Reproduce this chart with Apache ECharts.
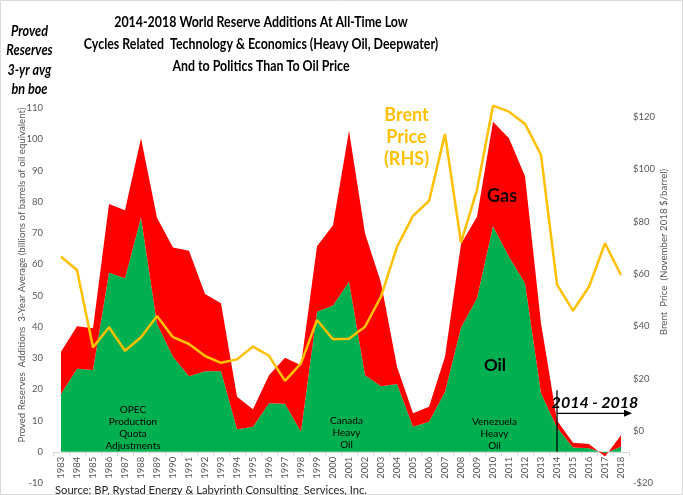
<!DOCTYPE html>
<html><head><meta charset="utf-8">
<script src="https://cdn.jsdelivr.net/npm/echarts@6.0.0/dist/echarts.min.js"></script>
<style>html,body{margin:0;padding:0;background:#fff}#c{width:683px;height:495px;}</style>
</head><body><div id="c"></div>
<script>
const years = ['1983','1984','1985','1986','1987','1988','1989','1990','1991','1992','1993','1994','1995','1996','1997','1998','1999','2000','2001','2002','2003','2004','2005','2006','2007','2008','2009','2010','2011','2012','2013','2014','2015','2016','2017','2018'];
const oil = [18.5,26.6,26.2,57.3,55.5,75.0,41.0,30.4,24.2,25.8,25.8,7.2,8.0,15.5,15.4,6.4,44.8,46.8,54.4,24.5,21.0,21.7,8.0,9.6,19.2,39.8,49.1,72.2,62.4,53.9,18.7,7.8,1.4,1.1,-0.5,1.6];
const gas = [13.5,13.6,13.3,22.0,21.8,25.3,33.9,35.0,40.1,24.7,21.7,10.4,5.6,9.0,14.7,21.3,21.0,25.7,48.3,45.4,33.1,5.5,4.3,4.8,11.2,26.7,26.1,33.4,37.9,34.3,22.4,2.2,1.5,1.4,-1.0,3.7];
const brent = [66.6,61.5,31.9,39.6,30.6,35.8,43.9,35.8,33.2,28.6,26.0,27.3,32.2,28.7,19.1,25.8,42.4,35.0,35.2,39.8,51.3,70.4,82.2,87.9,113.5,72.0,92.2,124.4,122.1,117.4,105.6,56.0,45.9,55.1,71.7,59.6];
const leftAxis = {min:-10, max:110, step:10};
const rightAxis = {min:-20, max:123.5, step:20};
const periodStart = '2014', periodEnd = '2018';

const F = 'Lato, sans-serif';
const H = 495, GRID_BOTTOM = 12;
const chart = echarts.init(document.getElementById('c'));
chart.setOption({
  animation:false,
  backgroundColor:'#ffffff',
  grid:{left:53, right:54, top:108, bottom:GRID_BOTTOM, containLabel:false, outerBoundsMode:'none'},
  xAxis:{type:'category', data:years, boundaryGap:true,
    axisLine:{onZero:true, lineStyle:{color:'#d9d9d9', width:1}},
    axisTick:{show:true, length:5, lineStyle:{color:'#d9d9d9'}},
    axisLabel:{rotate:90, interval:0, color:'#595959', fontSize:9.5, fontFamily:F, margin:5}},
  yAxis:[
    {type:'value', min:leftAxis.min, max:leftAxis.max, interval:leftAxis.step,
     axisLine:{show:false}, axisTick:{show:false}, splitLine:{show:false},
     axisLabel:{color:'#595959', fontSize:9.5, fontFamily:F, margin:10}},
    {type:'value', position:'right', min:rightAxis.min, max:rightAxis.max, interval:rightAxis.step,
     axisLine:{show:false}, axisTick:{show:false}, splitLine:{show:false},
     axisLabel:{color:'#595959', fontSize:9.5, fontFamily:F, margin:4,
       formatter:function(v){ if (Math.abs(v % 20) > 1e-6) return ''; return v < 0 ? '-$' + (-v) : '$' + v; }}}
  ],
  series:[
    {name:'Oil', type:'line', stack:'res', data:oil, symbol:'none', showSymbol:false,
     lineStyle:{width:0}, itemStyle:{color:'#00B050'}, areaStyle:{color:'#00B050', opacity:1}, z:2},
    {name:'Gas', type:'line', stack:'res', data:gas, symbol:'none', showSymbol:false,
     lineStyle:{width:0}, itemStyle:{color:'#FF0000'}, areaStyle:{color:'#FF0000', opacity:1}, z:2},
    {name:'Brent', type:'line', yAxisIndex:1, data:brent, symbol:'none', showSymbol:false, clip:false,
     lineStyle:{color:'#FFC000', width:2.5}, itemStyle:{color:'#FFC000'}, z:5}
  ]
});

// keep the category labels just under the zero line
const zeroY = chart.convertToPixel({yAxisIndex:0}, 0);
const gridBottomY = H - GRID_BOTTOM;
chart.setOption({xAxis:{axisLabel:{margin:5 - (gridBottomY - zeroY)}}});

const pA = chart.convertToPixel({gridIndex:0}, [periodStart, 0]);
const pTop = chart.convertToPixel({gridIndex:0}, [periodStart, 19.7]);
const pArr = chart.convertToPixel({gridIndex:0}, [periodEnd, 12.3]);
const arrowY = pArr[1];
const arrowEnd = pArr[0] + 11;

function txt(x, y, s, o) {
  return {type:'text', x:x, y:y, z:100, rotation:(o && o.rot) || 0, scaleX:(o && o.sx) || 1,
    style:Object.assign({text:s, fontFamily:F, fontSize:11, fill:'#000', align:'center', verticalAlign:'middle'}, o && o.style)};
}
const T = {fontSize:15.5, fontWeight:'bold'};
const P = {fontSize:15, fontWeight:'bold', fontStyle:'italic'};
const B = {fontSize:18, fontWeight:'bold', fill:'#FFC000'};
const S = {fontSize:10};
chart.setOption({graphic:[
  {type:'rect', shape:{x:0.5, y:0.5, width:682, height:494}, style:{fill:null, stroke:'#d9d9d9', lineWidth:1}, z:0, silent:true},
  txt(261, 22, '2014-2018 World Reserve Additions At All-Time Low', {style:T, sx:0.8}),
  txt(261, 44, 'Cycles Related  Technology & Economics (Heavy Oil, Deepwater)', {style:T, sx:0.8}),
  txt(261, 65.5, 'And to Politics Than To Oil Price', {style:T, sx:0.8}),
  txt(29.5, 31, 'Proved', {style:P, sx:0.84}),
  txt(29.5, 50.5, 'Reserves', {style:P, sx:0.84}),
  txt(29.5, 70, '3-yr avg', {style:P, sx:0.84}),
  txt(29.5, 89, 'bn boe', {style:P, sx:0.84}),
  txt(21.5, 275, 'Proved Reserves  Additions  3-Year Average (billions of barrels of oil equivalent)', {rot:Math.PI/2, style:{fontSize:9.7, fill:'#595959'}}),
  txt(664, 252, 'Brent  Price  (November 2018 $/barrel)', {rot:Math.PI/2, style:{fontSize:9.7, fill:'#595959'}}),
  txt(55, 490, 'Source: BP, Rystad Energy & Labyrinth Consulting  Services, Inc.', {style:{fontSize:11.2, fill:'#262626', align:'left'}}),
  txt(406.5, 115, 'Brent', {style:B}),
  txt(406.5, 137.5, 'Price', {style:B}),
  txt(406.5, 159.5, '(RHS)', {style:B}),
  txt(502, 196, 'Gas', {style:{fontSize:18, fontWeight:'bold', fill:'#1a0000'}}),
  txt(495, 366, 'Oil', {style:{fontSize:17, fontWeight:'bold'}}),
  txt(133, 410, 'OPEC', {style:S}),
  txt(133, 422, 'Production', {style:S}),
  txt(133, 434, 'Quota', {style:S}),
  txt(133, 446, 'Adjustments', {style:S}),
  txt(346.5, 421, 'Canada', {style:S}),
  txt(346.5, 433, 'Heavy', {style:S}),
  txt(346.5, 445, 'Oil', {style:S}),
  txt(494.5, 422, 'Venezuela', {style:S}),
  txt(494.5, 434, 'Heavy', {style:S}),
  txt(494.5, 446, 'Oil', {style:S}),
  txt(595, 403, '2014 - 2018', {style:{fontSize:16, fontWeight:'bold', fontStyle:'italic'}}),
  {type:'line', z:100, shape:{x1:pA[0], y1:pA[1], x2:pTop[0], y2:pTop[1]}, style:{stroke:'#000', lineWidth:1.3}},
  {type:'line', z:100, shape:{x1:pA[0], y1:arrowY, x2:arrowEnd - 6, y2:arrowY}, style:{stroke:'#000', lineWidth:1.3}},
  {type:'polygon', z:100, shape:{points:[[arrowEnd, arrowY],[arrowEnd-8, arrowY-3.5],[arrowEnd-8, arrowY+3.5]]}, style:{fill:'#000'}}
]});
</script></body></html>
